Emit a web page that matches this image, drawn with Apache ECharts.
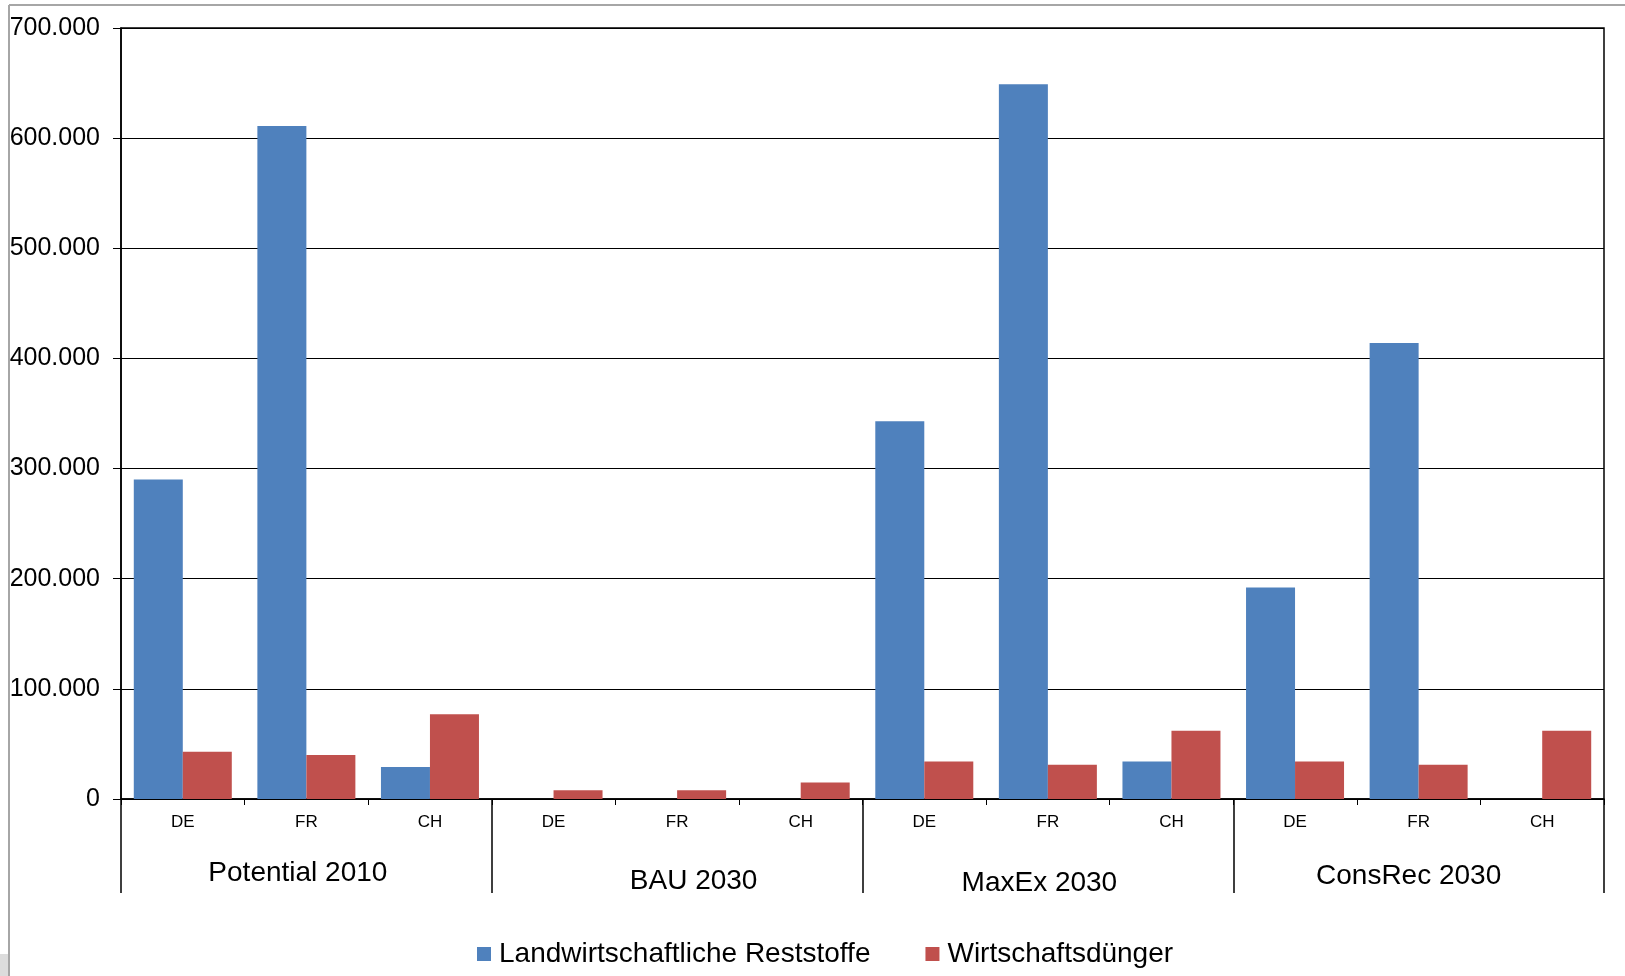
<!DOCTYPE html>
<html>
<head>
<meta charset="utf-8">
<script src="https://cdn.jsdelivr.net/npm/echarts@6/dist/echarts.min.js"></script>
<style>
  html, body { margin: 0; padding: 0; background: #fff; }
  #chart { width: 1625px; height: 976px; }
</style>
</head>
<body>
<div id="chart"></div>
<script>
// Daten
const countries = ['DE', 'FR', 'CH', 'DE', 'FR', 'CH', 'DE', 'FR', 'CH', 'DE', 'FR', 'CH'];
const scenarios = ['Potential 2010', 'BAU 2030', 'MaxEx 2030', 'ConsRec 2030'];
const reststoffe = [290000, 611000, 29000, 0, 0, 0, 343000, 649000, 34000, 192000, 414000, 0];
const duenger = [43000, 40000, 77000, 8000, 8000, 15000, 34000, 31000, 62000, 34000, 31000, 62000];

const font = '"Liberation Sans", Arial, sans-serif';
const chart = echarts.init(document.getElementById('chart'));

// Gruppenbeschriftungen sitzen im Original nicht ganz mittig
const groupLabel = {
  p0: { fontSize: 28, color: '#000', padding: [6, 17, 0, 0] },
  p1: { fontSize: 28, color: '#000', padding: [14, 0, 0, 33] },
  p2: { fontSize: 28, color: '#000', padding: [16, 17, 0, 0] },
  p3: { fontSize: 28, color: '#000', padding: [9, 20, 0, 0] }
};

const option = {
  backgroundColor: '#fff',
  animation: false,
  textStyle: { fontFamily: font, color: '#000' },
  grid: { left: 121, right: 21, top: 28, bottom: 177, show: true, borderColor: '#000', borderWidth: 1.5 },
  legend: {
    left: 472,
    top: 935,
    itemWidth: 14,
    itemHeight: 14,
    itemGap: 55,
    icon: 'rect',
    textStyle: { fontSize: 28, color: '#000', fontFamily: font, padding: [0, 0, 0, 3] }
  },
  xAxis: [
    {
      type: 'category',
      data: countries,
      axisLine: { lineStyle: { color: '#000', width: 1.5 } },
      axisTick: { show: true, interval: 0, length: 6, lineStyle: { color: '#000' } },
      axisLabel: { interval: 0, fontSize: 17, color: '#000', margin: 15 }
    },
    {
      type: 'category',
      position: 'bottom',
      data: scenarios,
      axisLine: { show: false },
      axisTick: { show: true, interval: 0, length: 94, lineStyle: { color: '#000', width: 1.5 } },
      axisLabel: {
        interval: 0,
        margin: 54,
        formatter: (v, i) => '{p' + i + '|' + v + '}',
        rich: groupLabel
      }
    }
  ],
  yAxis: {
    type: 'value',
    min: 0,
    max: 700000,
    interval: 100000,
    axisLine: { show: true, lineStyle: { color: '#000', width: 1.5 } },
    axisTick: { show: true, length: 8, lineStyle: { color: '#000' } },
    splitLine: { lineStyle: { color: '#000', width: 1.2 } },
    axisLabel: {
      fontSize: 25,
      color: '#000',
      margin: 21,
      formatter: v => v === 0 ? '0' : (v / 1000).toFixed(0) + '.000'
    }
  },
  series: [
    {
      name: 'Landwirtschaftliche Reststoffe',
      type: 'bar',
      data: reststoffe,
      barWidth: 49,
      barGap: '0%',
      itemStyle: { color: '#4F81BD' }
    },
    {
      name: 'Wirtschaftsdünger',
      type: 'bar',
      data: duenger,
      barWidth: 49,
      barGap: '0%',
      itemStyle: { color: '#C0504D' }
    }
  ],
  graphic: [
    { type: 'line', shape: { x1: 9, y1: 5, x2: 1625, y2: 5 }, style: { stroke: '#a6a6a6', lineWidth: 2 } },
    { type: 'line', shape: { x1: 9, y1: 5, x2: 9, y2: 976 }, style: { stroke: '#a6a6a6', lineWidth: 2 } },
    { type: 'rect', shape: { x: 0, y: 954, width: 8, height: 22 }, style: { fill: '#dcdcdc' } }
  ]
};

chart.setOption(option);
</script>
</body>
</html>
